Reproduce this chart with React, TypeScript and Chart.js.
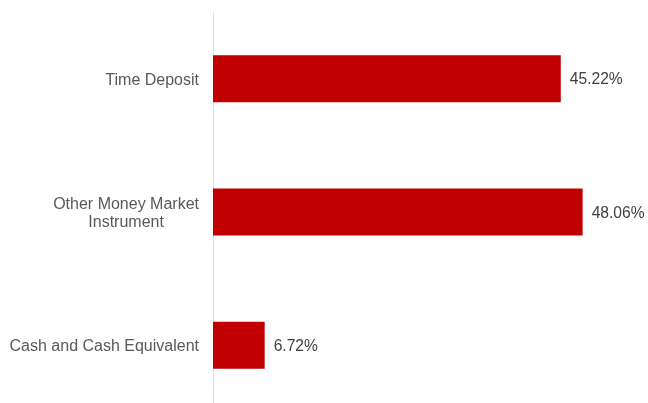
import React, { useEffect, useRef } from "react";
import { Chart, registerables } from "chart.js";

Chart.register(...registerables);

const categories: string[][] = [
  ["Time Deposit"],
  ["Other Money Market", "Instrument"],
  ["Cash and Cash Equivalent"],
];
const values: number[] = [45.22, 48.06, 6.72];
const valueLabels: string[] = ["45.22%", "48.06%", "6.72%"];
const xMin = 0;
const xMax = 55;

const FONT = '"Liberation Sans", Arial, sans-serif';

const labelPlugin = {
  id: "customLabels",
  afterDatasetsDraw(chart: any) {
    const ctx = chart.ctx;
    const meta = chart.getDatasetMeta(0);
    const yScale = chart.scales.y;
    ctx.save();
    // category labels
    ctx.font = `16px ${FONT}`;
    ctx.fillStyle = "#595959";
    ctx.textBaseline = "middle";
    ctx.textAlign = "center";
    const rightX = 199;
    const lineH = 18;
    categories.forEach((lines, i) => {
      const cy = yScale.getPixelForValue(i) + 1.5;
      const maxW = Math.max(...lines.map((l) => ctx.measureText(l).width));
      const cx = rightX - maxW / 2;
      const startY = cy - ((lines.length - 1) * lineH) / 2;
      lines.forEach((l, j) => {
        ctx.fillText(l, cx, startY + j * lineH);
      });
    });
    // value labels
    ctx.font = `15.6px ${FONT}`;
    ctx.fillStyle = "#404040";
    ctx.textAlign = "left";
    meta.data.forEach((bar: any, i: number) => {
      ctx.fillText(valueLabels[i], bar.x + 9, bar.y + 1.5);
    });
    ctx.restore();
  },
};

export default function App() {
  const ref = useRef<HTMLCanvasElement>(null);
  useEffect(() => {
    if (!ref.current) return;
    const chart = new Chart(ref.current, {
      type: "bar",
      data: {
        labels: categories,
        datasets: [
          {
            data: values,
            backgroundColor: "#C00000",
            borderWidth: 0,
            barPercentage: 0.352,
            categoryPercentage: 1,
          },
        ],
      },
      options: {
        indexAxis: "y",
        responsive: false,
        animation: false,
        devicePixelRatio: 1,
        layout: { padding: { top: 12, bottom: 8, left: 0, right: 12 } },
        plugins: {
          legend: { display: false },
          tooltip: { enabled: false },
          title: { display: false },
        },
        scales: {
          x: {
            display: false,
            min: xMin,
            max: xMax,
          },
          y: {
            position: "left",
            grid: { display: false, drawTicks: false },
            border: { display: true, color: "#e0e0e0", width: 1 },
            ticks: { display: false },
            afterFit(scale: any) {
              scale.width = 213;
            },
          },
        },
      },
      plugins: [labelPlugin],
    });
    return () => chart.destroy();
  }, []);
  return (
    <div style={{ position: "absolute", left: 0, top: 0, width: 648, height: 420, background: "#fff" }}>
      <canvas ref={ref} width={648} height={420} />
    </div>
  );
}
